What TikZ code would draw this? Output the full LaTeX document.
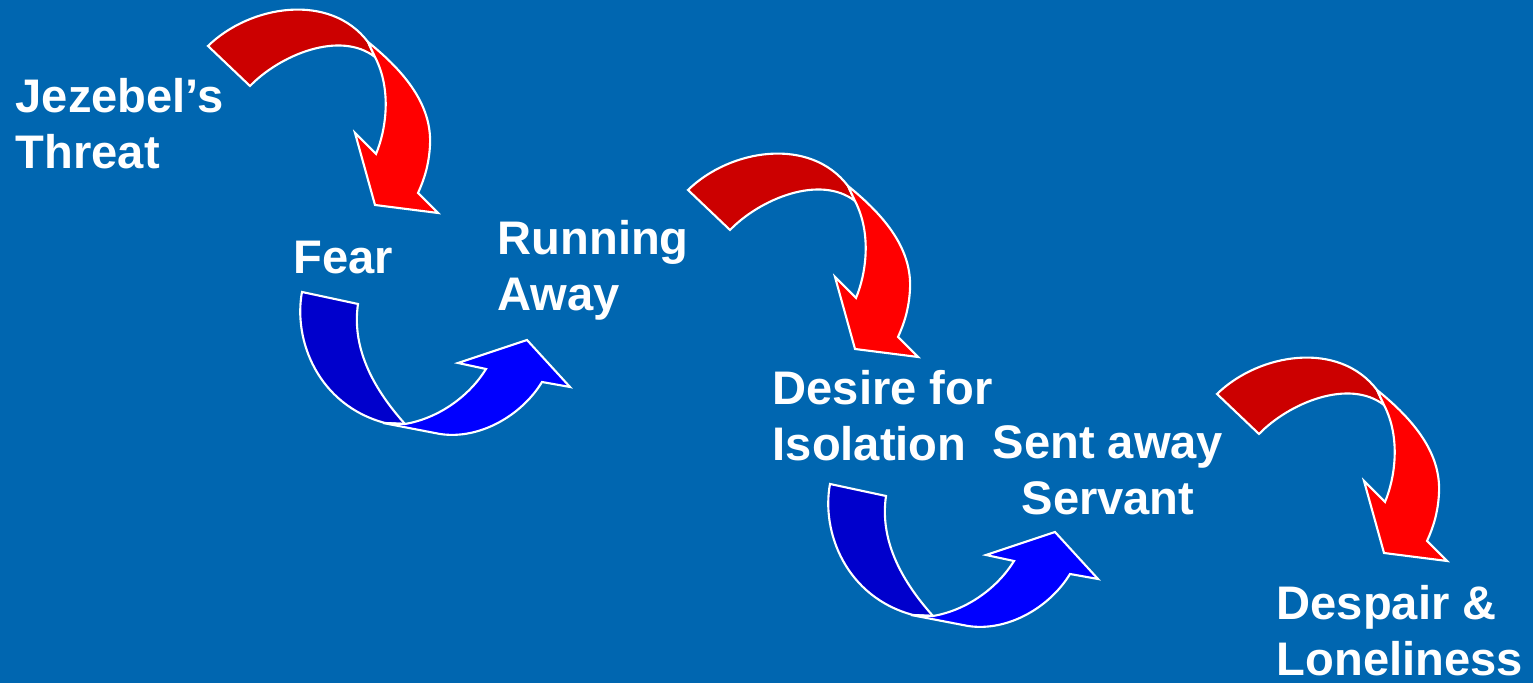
\documentclass[tikz,border=0pt]{standalone}
\usepackage{fontspec}
\setmainfont{Liberation Sans}
\usepackage{tikz}
\usetikzlibrary{calc}

\definecolor{slideblue}{RGB}{0,102,176}
\definecolor{backred}{RGB}{204,0,0}
\definecolor{frontred}{RGB}{255,0,0}
\definecolor{backblue}{RGB}{0,0,204}
\definecolor{frontblue}{RGB}{0,0,255}

\begin{document}
\begin{tikzpicture}[x=0.01cm,y=-0.01cm,
    edge/.style={draw=white,line width=0.6pt,line join=miter},
    lbl/.style={text=white,font=\fontsize{13.4}{15.8}\selectfont\bfseries,inner sep=0pt,align=left}]
    \fill[slideblue] (0,0) rectangle (1533,683);
    \useasboundingbox (0,0) rectangle (1533,683);
    % red curved arrows, pointing down
    \foreach \dx/\dy in {0/0,480/144,1009/348} {
        \begin{scope}[shift={(\dx,\dy)}]
            \draw[edge,fill=backred] (208,46) .. controls (250,5) and (330,-8) .. (368,42)
                -- (375,57) .. controls (340,30) and (280,55) .. (250,86) -- cycle;
            \draw[edge,fill=frontred] (368,42) .. controls (405,72) and (432,105) .. (430,145)
                .. controls (429,165) and (424,180) .. (418,193) -- (438,213) -- (375,205)
                -- (355,133) -- (376,154) .. controls (386,130) and (392,90) .. (375,57) -- cycle;
        \end{scope}
    }
    % blue curved arrows, pointing up
    \foreach \dx/\dy in {0/0,528/192} {
        \begin{scope}[shift={(\dx,\dy)}]
            \draw[edge,fill=backblue] (302,292) .. controls (293,340) and (318,405) .. (385,423)
                -- (405,424) .. controls (370,385) and (352,345) .. (358,304) -- cycle;
            \draw[edge,fill=frontblue] (383,423) -- (440,434) .. controls (480,440) and (522,415) .. (542,382)
                -- (570,387) -- (527,340) -- (458,363) -- (486,369)
                .. controls (470,395) and (440,418) .. (405,424) -- cycle;
        \end{scope}
    }
    % labels
    \node[lbl,anchor=north west] (threat) at (15,78) {Jezebel’s\\Threat};
    \node[lbl,anchor=north west] (fear) at (293,240) {Fear};
    \node[lbl,anchor=north west] (running) at (497,220) {Running\\Away};
    \node[lbl,anchor=north west] (desire) at (772,370) {Desire for\\Isolation};
    \node[lbl,anchor=north,align=center] (servant) at (1108,425) {Sent away\\Servant};
    \node[lbl,anchor=north west] (despair) at (1276,585) {Despair \&\\Loneliness};
\end{tikzpicture}
\end{document}
